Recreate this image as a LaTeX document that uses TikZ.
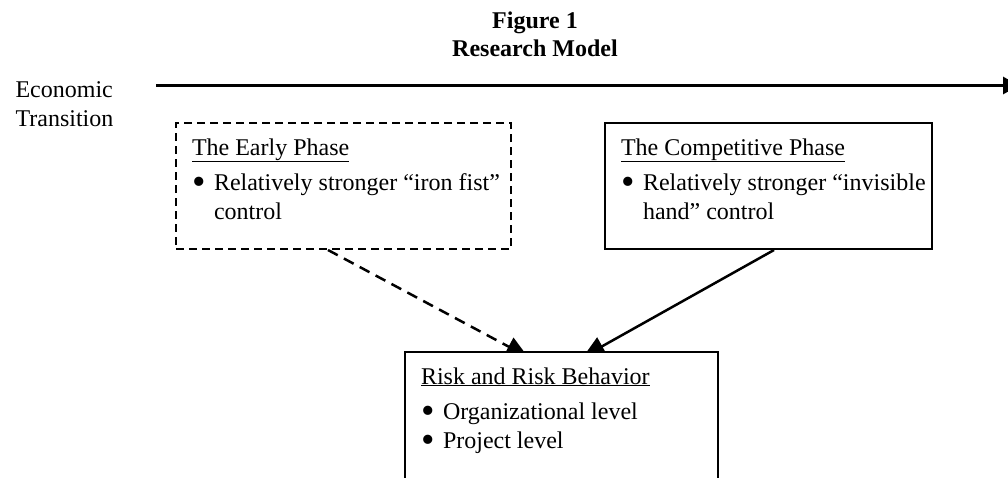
\documentclass[tikz,border=0pt]{standalone}
\usepackage{fontspec}
\setmainfont{Liberation Serif}
\usepackage{graphicx}
\usetikzlibrary{arrows.meta,backgrounds}

% text block with fixed size, first baseline 32pt below the top
\newcommand{\phasetext}[3]{\parbox[c][#1][t]{#2}{\raggedright\leftskip=16pt\rule{0pt}{32pt}#3}}
\newcommand{\itembullet}{\makebox[22pt][l]{\raisebox{-4pt}{\scalebox{1.6}{\textbullet}}}}

\tikzset{
	every node/.style={font=\fontsize{24}{29}\selectfont},
	title/.style={anchor=base, align=center, font=\bfseries\fontsize{24}{28}\selectfont},
	side label/.style={anchor=base west, align=left, font=\fontsize{24}{29}\selectfont},
	timeline/.style={line width=3pt, -{Triangle[length=16pt,width=17pt]}},
	phase/.style={draw, fill=white, line width=2pt, anchor=north west, inner sep=0pt},
	early phase/.style={phase, dash pattern=on 8pt off 5pt},
	link/.style={line width=2.5pt, -{Triangle[length=22pt,width=20pt]}},
	weak link/.style={link, dash pattern=on 11pt off 7pt}
}

\begin{document}
\begin{tikzpicture}[x=1pt, y=-1pt]
	\useasboundingbox (0,0) rectangle (1008,477);
	
	% Title (base = last line)
	\node[title] (title) at (535,56) {Figure 1\\Research Model};
	
	% Transition axis
	\node[side label] (econ) at (12,126) {Economic\\Transition};
	\coordinate (axis start) at (156,85.5);
	\coordinate (axis end) at (1019,85.5);
	\draw[timeline] (axis start) -- (axis end);
	
	% Phases
	\node[early phase] (early) at (175,122) {\phasetext{126pt}{335pt}{%
			\underline{The Early Phase}\\[6.5pt]
			\itembullet Relatively stronger “iron fist”\\
			\hspace*{22pt}control}};
	\node[phase] (competitive) at (604,122) {\phasetext{126pt}{327pt}{%
			\underline{The Competitive Phase}\\[6.5pt]
			\itembullet Relatively stronger “invisible\\
			\hspace*{22pt}hand” control}};
	
	% Outcome
	\node[phase] (risk) at (404,351) {\phasetext{140pt}{313pt}{%
			\underline{Risk and Risk Behavior}\\[6.5pt]
			\itembullet Organizational level\\
			\itembullet Project level}};
	
	% Links
	\begin{scope}[on background layer]
		\draw[weak link] ([xshift=-15.5pt]early.south) -- ([xshift=-33.5pt,yshift=-6pt]risk.north);
		\draw[link] ([xshift=5.5pt]competitive.south) -- ([xshift=21.5pt,yshift=-6pt]risk.north);
	\end{scope}
\end{tikzpicture}
\end{document}
